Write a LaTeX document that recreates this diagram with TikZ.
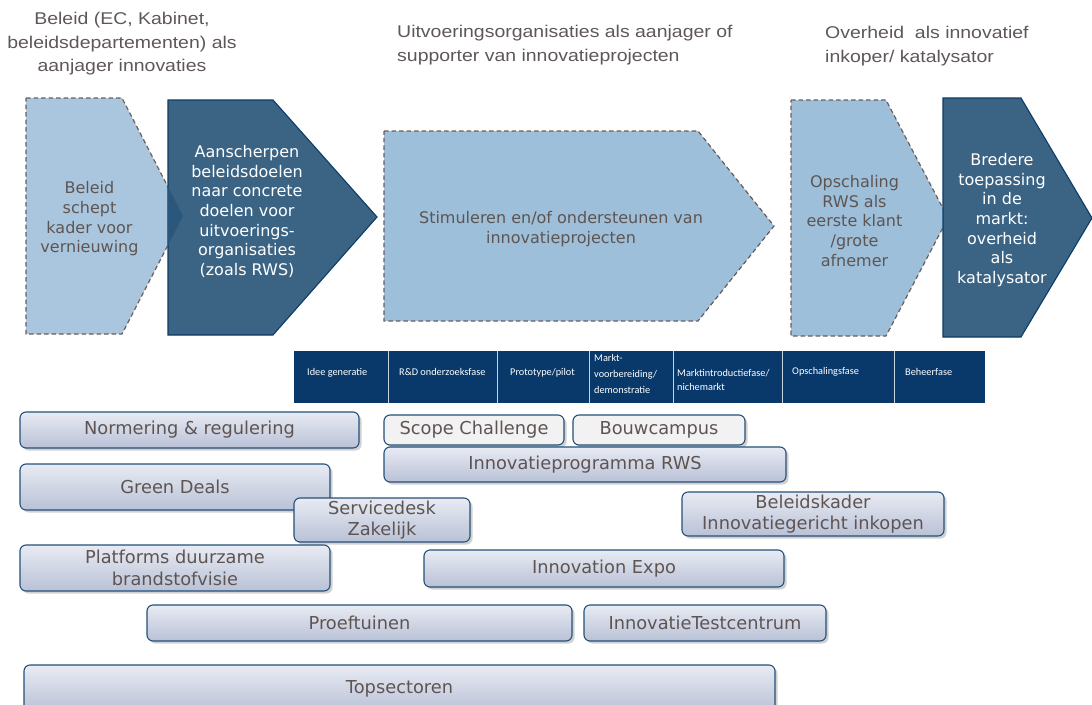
\documentclass[tikz,border=0pt]{standalone}
\usepackage{fontspec}
\setmainfont{DejaVu Sans}
\newfontfamily\titlefont[FakeStretch=1.145]{Liberation Sans}
\newfontfamily\phasefont{Carlito}
\usetikzlibrary{shadows}

\definecolor{titlegray}{HTML}{5F5757}
\definecolor{txtgray}{HTML}{5E5553}
\definecolor{lightA}{HTML}{AAC6DF}
\definecolor{lightB}{HTML}{9DBFDA}
\definecolor{darkfill}{HTML}{3A6384}
\definecolor{darkline}{HTML}{0D3C66}
\definecolor{overlapfill}{HTML}{2B577D}
\definecolor{dashline}{HTML}{6B5E5B}
\definecolor{phasefill}{HTML}{08396A}
\definecolor{phasediv}{HTML}{C9D3DE}
\definecolor{boxline}{HTML}{24507A}
\definecolor{boxtop}{HTML}{E8EBF3}
\definecolor{boxbot}{HTML}{B9C1D6}
\definecolor{plainfill}{HTML}{F2F2F2}

\begin{document}
\begin{tikzpicture}[x=1pt,y=-1pt,
  title/.style={font=\titlefont\fontsize{17}{23.5}\selectfont, text=titlegray, inner sep=0pt},
  lightarrow/.style={fill=#1, draw=dashline, line width=1.2pt, dash pattern=on 4.5pt off 3pt},
  darkarrow/.style={fill=darkfill, draw=darkline, line width=1.1pt},
  arrowtxt/.style={font=\fontsize{16}{19.7}\selectfont, align=center, inner sep=0pt},
  phasetxt/.style={font=\phasefont\fontsize{10.3}{15}\selectfont, text=white, anchor=west, align=left, inner sep=0pt},
  itembox/.style={draw=boxline, line width=1.1pt, rounded corners=6pt,
    top color=boxtop, bottom color=boxbot,
    drop shadow={shadow xshift=2.5pt, shadow yshift=-2.5pt, opacity=0.3, fill=black!60},
    text=txtgray, font=\fontsize{17.8}{21.5}\selectfont, align=center, inner sep=0pt},
  plainbox/.style={itembox, top color=plainfill, bottom color=plainfill}
]
\useasboundingbox (0,0) rectangle (1092,704);

% column headings
\node[title, align=center] (head1) at (122,44)
  {Beleid (EC, Kabinet,\\beleidsdepartementen) als\\aanjager innovaties};
\node[title, align=left, anchor=west] (head2) at (397,45)
  {Uitvoeringsorganisaties als aanjager of\\supporter van innovatieprojecten};
\node[title, align=left, anchor=west] (head3) at (825,46)
  {Overheid\ \ als innovatief\\inkoper/ katalysator};

% chevrons
\path[lightarrow=lightA] (26,98) -- (122,98) -- (183,216) -- (122,334) -- (26,334) -- cycle;
\path[darkarrow] (168,100) -- (273,100) -- (377,217) -- (273,335) -- (168,335) -- cycle;
\begin{scope}
  \clip (168,100) -- (273,100) -- (377,217) -- (273,335) -- (168,335) -- cycle;
  \fill[overlapfill] (26,98) -- (122,98) -- (183,216) -- (122,334) -- (26,334) -- cycle;
\end{scope}
\path[lightarrow=lightB] (384,131) -- (698,131) -- (774,226) -- (698,321) -- (384,321) -- cycle;
\path[lightarrow=lightB] (791,100) -- (886,100) -- (948,218) -- (886,336) -- (791,336) -- cycle;
\path[darkarrow] (943,98) -- (1021,98) -- (1092,218) -- (1021,337) -- (943,337) -- cycle;

\node[arrowtxt, text=txtgray] (c1) at (89.5,219)
  {Beleid\\schept\\kader voor\\vernieuwing};
\node[arrowtxt, text=white] (c2) at (247,211.5)
  {Aanscherpen\\beleidsdoelen\\naar concrete\\doelen voor\\uitvoerings-\\organisaties\\(zoals RWS)};
\node[arrowtxt, text=txtgray] (c3) at (561,229)
  {Stimuleren en/of ondersteunen van\\innovatieprojecten};
\node[arrowtxt, text=txtgray] (c4) at (854.5,221)
  {Opschaling\\RWS als\\eerste klant\\/grote\\afnemer};
\node[arrowtxt, text=white] (c5) at (1002,220)
  {Bredere\\toepassing\\in de\\markt:\\overheid\\als\\katalysator};

% phase bar
\fill[phasefill] (294,351) rectangle (985,403);
\foreach \xd in {388,497,589,673,782,894}
  \draw[phasediv, line width=0.9pt] (\xd,351) -- (\xd,403);
\node[phasetxt] (p1) at (307,373) {Idee generatie};
\node[phasetxt] (p2) at (399,372) {R\&D onderzoeksfase};
\node[phasetxt] (p3) at (510,373) {Prototype/pilot};
\node[phasetxt, font=\phasefont\fontsize{10.3}{16}\selectfont] (p4) at (594,374) {Markt-\\voorbereiding/\\demonstratie};
\node[phasetxt, font=\phasefont\fontsize{10.3}{14}\selectfont] (p5) at (677,380) {Marktintroductiefase/\\nichemarkt};
\node[phasetxt] (p6) at (792,372) {Opschalingsfase};
\node[phasetxt] (p7) at (905,372) {Beheerfase};

% instruments
\node[itembox, minimum width=339pt, minimum height=36pt] (norm) at (189.5,430) {Normering \& regulering};
\node[itembox, minimum width=310pt, minimum height=46pt] (green) at (175,487) {Green Deals};
\node[itembox, minimum width=176pt, minimum height=44pt] (desk) at (382,520) {Servicedesk\\Zakelijk};
\node[itembox, minimum width=310pt, minimum height=46pt] (platf) at (175,568) {Platforms duurzame\\brandstofvisie};
\node[plainbox, minimum width=180pt, minimum height=30pt] (scope) at (474,430) {Scope Challenge};
\node[plainbox, minimum width=172pt, minimum height=30pt] (bouw) at (659,430) {Bouwcampus};
\node[itembox, minimum width=402pt, minimum height=35pt] (rws) at (585,464.5) {Innovatieprogramma RWS};
\node[itembox, minimum width=262pt, minimum height=44pt] (kader) at (813,514) {Beleidskader\\Innovatiegericht inkopen};
\node[itembox, minimum width=360pt, minimum height=37pt] (expo) at (604,568.5) {Innovation Expo};
\node[itembox, minimum width=425pt, minimum height=36pt] (proef) at (359.5,623) {Proeftuinen};
\node[itembox, minimum width=242pt, minimum height=36pt] (itc) at (705,623) {InnovatieTestcentrum};
\node[itembox, minimum width=751pt, minimum height=47pt] (top) at (399.5,688.5) {Topsectoren};
\end{tikzpicture}
\end{document}
